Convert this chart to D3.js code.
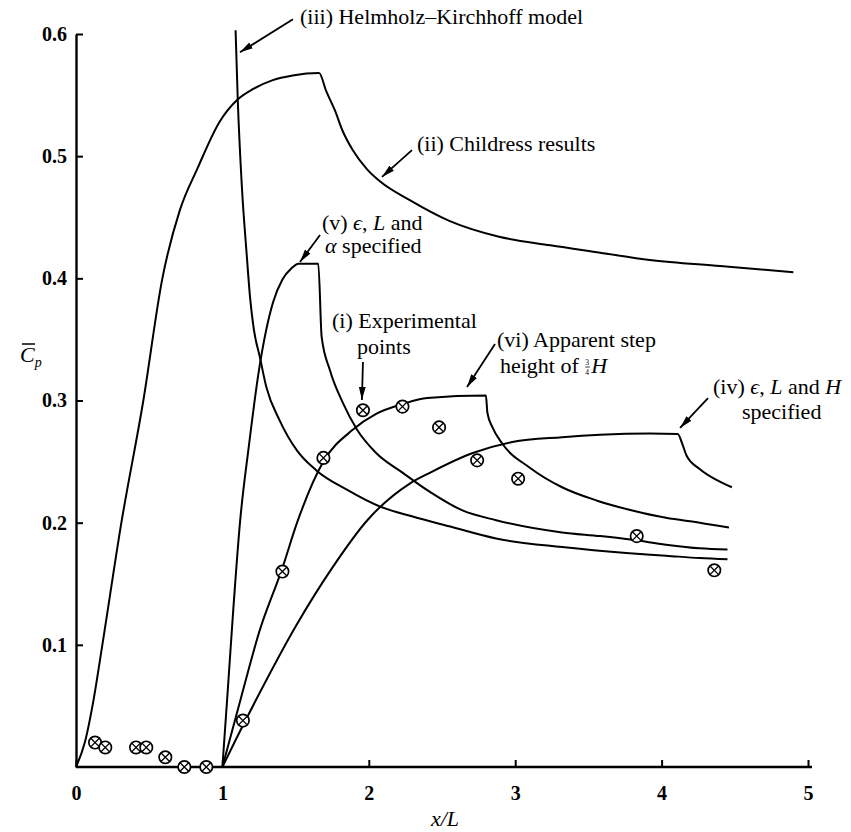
<!DOCTYPE html>
<html>
<head>
    <meta charset="UTF-8">
    <title>Mean pressure coefficient downstream of a step</title>
    <script src="https://d3js.org/d3.v7.min.js"></script>
    <style type="text/css">
        body { margin: 0; background: white; }
        text { font-family: "Liberation Serif", "DejaVu Serif", serif; fill: black; white-space: pre; }
    </style>
</head>
<body>
    <svg id="chart"></svg>

    <script>
        const width = 851;
        const height = 832;

        const xTicks = [0, 1, 2, 3, 4, 5];
        const yTicks = [0.1, 0.2, 0.3, 0.4, 0.5, 0.6];

        // (i) experimental points, x/L and Cp
        const expX  = [0.13, 0.20, 0.41, 0.48, 0.61, 0.74, 0.89, 1.14, 1.41, 1.69, 1.96, 2.23, 2.48, 2.74, 3.02, 3.83, 4.36];
        const expCp = [0.020, 0.016, 0.016, 0.016, 0.008, 0.0, 0.0, 0.038, 0.160, 0.253, 0.292, 0.295, 0.278, 0.251, 0.236, 0.189, 0.161];

        // (ii) Childress results  [x/L, Cp]
        const childress = [[0, 0], [0.06, 0.02], [0.12, 0.055], [0.18, 0.10], [0.31, 0.20], [0.46, 0.30], [0.59, 0.40],
            [0.71, 0.456], [0.83, 0.49], [0.98, 0.528], [1.10, 0.546], [1.21, 0.555], [1.34, 0.562], [1.48, 0.566],
            [1.66, 0.568], [1.71, 0.553], [1.77, 0.537], [1.82, 0.521], [1.89, 0.505], [1.99, 0.489], [2.08, 0.479],
            [2.28, 0.464], [2.55, 0.447], [2.89, 0.434], [3.24, 0.427], [3.58, 0.421], [3.92, 0.415], [4.40, 0.410], [4.90, 0.405]];

        // (iii) Helmholz-Kirchhoff model
        const helmholtz = [[1.09, 0.603], [1.105, 0.546], [1.133, 0.475], [1.165, 0.421], [1.19, 0.383], [1.215, 0.358],
            [1.255, 0.336], [1.30, 0.311], [1.39, 0.284], [1.51, 0.259], [1.64, 0.243], [1.85, 0.227], [2.08, 0.213],
            [2.30, 0.205], [2.55, 0.197], [2.87, 0.187], [3.32, 0.180], [3.78, 0.175], [4.03, 0.173], [4.26, 0.171], [4.45, 0.170]];

        // (iv) eps, L and H specified
        const specH = [[1, 0], [1.14, 0.034], [1.23, 0.055], [1.50, 0.115], [1.75, 0.163], [1.99, 0.202], [2.28, 0.232],
            [2.42, 0.241], [2.71, 0.257], [2.98, 0.266], [3.32, 0.270], [3.58, 0.272], [3.92, 0.273], [4.11, 0.2725],
            [4.14, 0.265], [4.17, 0.255], [4.26, 0.244], [4.375, 0.235], [4.48, 0.229]];

        // (v) eps, L and alpha specified
        const specAlpha = [[1, 0], [1.035, 0.06], [1.075, 0.13], [1.12, 0.20], [1.18, 0.262], [1.25, 0.325], [1.345, 0.38],
            [1.41, 0.399], [1.47, 0.408], [1.52, 0.412], [1.655, 0.412], [1.678, 0.352], [1.734, 0.325], [1.823, 0.298],
            [1.92, 0.276], [2.05, 0.257], [2.23, 0.241], [2.42, 0.225], [2.64, 0.210], [2.87, 0.202], [3.32, 0.192],
            [3.58, 0.189], [3.80, 0.186], [4.03, 0.182], [4.26, 0.179], [4.45, 0.178]];

        // (vi) apparent step height of 3/4 H
        const apparent = [[1, 0], [1.13, 0.058], [1.25, 0.11], [1.41, 0.163], [1.51, 0.20], [1.69, 0.250], [1.89, 0.276],
            [2.05, 0.289], [2.23, 0.297], [2.40, 0.302], [2.80, 0.304], [2.81, 0.29], [2.845, 0.278], [2.91, 0.265],
            [3.10, 0.245], [3.32, 0.229], [3.56, 0.218], [3.80, 0.210], [4.03, 0.204], [4.26, 0.200], [4.46, 0.196]];

        const svg = d3.select("#chart")
            .attr("width", width)
            .attr("height", height);

        const x = d3.scaleLinear().domain([0, 5]).range([76, 808]);
        const y = d3.scaleLinear().domain([0, 0.6]).range([767, 34]);

        svg.append("defs").append("marker")
            .attr("id", "arrow")
            .attr("viewBox", "0 0 13 8")
            .attr("refX", 13)
            .attr("refY", 4)
            .attr("markerWidth", 13)
            .attr("markerHeight", 8)
            .attr("markerUnits", "userSpaceOnUse")
            .attr("orient", "auto")
            .append("path")
            .attr("d", "M0,0.6 L13,4 L0,7.4 Z")
            .attr("fill", "black");

        // axes, ticks point inwards
        const xAxis = svg.append("g")
            .attr("transform", `translate(0,${y(0)})`)
            .call(d3.axisBottom(x).tickValues(xTicks).tickSize(-7).tickSizeOuter(0).tickPadding(19).tickFormat(d3.format("d")));
        // the baseline runs a little past the last tick
        xAxis.select(".domain").attr("d", `M${x(0)},0H${x(5) + 4}`);

        const yAxis = svg.append("g")
            .attr("transform", `translate(${x(0)},0)`)
            .call(d3.axisLeft(y).tickValues(yTicks).tickSize(-7).tickSizeOuter(0).tickPadding(9).tickFormat(d3.format(".1f")));

        [xAxis, yAxis].forEach(a => {
            a.select(".domain").attr("stroke-width", 2.4);
            a.selectAll(".tick line").attr("stroke-width", 2);
            a.selectAll(".tick text")
                .style("font-family", "Liberation Serif")
                .style("font-size", "20px")
                .style("font-weight", "bold");
        });

        // curves
        const line = d3.line()
            .x(d => x(d[0]))
            .y(d => y(d[1]))
            .curve(d3.curveMonotoneX);

        svg.append("g").selectAll("path")
            .data([childress, helmholtz, specH, specAlpha, apparent])
            .join("path")
            .attr("d", line)
            .attr("fill", "none")
            .attr("stroke", "black")
            .attr("stroke-width", 2);

        // experimental points as circled crosses
        const pts = svg.append("g").selectAll("g")
            .data(expX.map((d, i) => [d, expCp[i]]))
            .join("g")
            .attr("transform", d => `translate(${x(d[0])},${y(d[1])})`);
        pts.append("circle")
            .attr("r", 6.2)
            .attr("fill", "white")
            .attr("stroke", "black")
            .attr("stroke-width", 1.7);
        pts.append("path")
            .attr("d", "M-4.3,-4.3L4.3,4.3M-4.3,4.3L4.3,-4.3")
            .attr("stroke", "black")
            .attr("stroke-width", 1.3);

        // axis titles
        svg.append("text")
            .attr("x", x(2.5) + 3)
            .attr("y", 826)
            .attr("text-anchor", "middle")
            .style("font-size", "22px")
            .style("font-style", "italic")
            .text("x/L");

        const cp = svg.append("text")
            .attr("x", 20)
            .attr("y", 362)
            .style("font-size", "22px")
            .style("font-style", "italic");
        cp.append("tspan").text("C");
        cp.append("tspan").attr("dy", 5).style("font-size", "14px").text("p");
        svg.append("line")
            .attr("x1", 22).attr("x2", 35)
            .attr("y1", 344).attr("y2", 344)
            .attr("stroke", "black")
            .attr("stroke-width", 1.5);

        // annotations: text parts are [string, italic]
        function addText(parts, at) {
            const t = svg.append("text")
                .attr("x", x(at[0]))
                .attr("y", y(at[1]))
                .style("font-size", "22px");
            parts.forEach(p => t.append("tspan")
                .style("font-style", p[1] ? "italic" : "normal")
                .text(p[0]));
            return t;
        }
        function addArrow(from, to) {
            svg.append("line")
                .attr("x1", x(from[0])).attr("y1", y(from[1]))
                .attr("x2", x(to[0])).attr("y2", y(to[1]))
                .attr("stroke", "black")
                .attr("stroke-width", 1.8)
                .attr("marker-end", "url(#arrow)");
        }

        addText([["(iii) Helmholz–Kirchhoff model"]], [1.53, 0.608]);
        addArrow([1.482, 0.612], [1.12, 0.585]);

        addText([["(ii) Childress results"]], [2.329, 0.504]);
        addArrow([2.295, 0.505], [2.09, 0.483]);

        addText([["(v) "], ["ϵ", true], [", "], ["L", true], [" and"]], [1.68, 0.4396]);
        addText([["α", true], [" specified"]], [1.701, 0.4207]);
        addArrow([1.667, 0.4355], [1.53, 0.4134]);

        addText([["(i) Experimental"]], [1.749, 0.3593]);
        addText([["points"]], [1.919, 0.3381]);
        addArrow([1.96, 0.3315], [1.953, 0.3004]);

        addText([["(vi) Apparent step"]], [2.876, 0.3438]);
        // "height of" with a small stacked 3/4 and an italic H
        const h34 = addText([["height of "]], [2.896, 0.3225]);
        const fx = x(2.896) + h34.node().getComputedTextLength() + 1;
        const fy = y(0.3225);
        h34.append("tspan").attr("x", fx).attr("y", fy - 8.5).style("font-size", "7.5px").text("3");
        h34.append("tspan").attr("x", fx).attr("y", fy + 1.5).style("font-size", "7.5px").text("4");
        h34.append("tspan").attr("x", fx + 6).attr("y", fy).style("font-style", "italic").text("H");
        svg.append("line")
            .attr("x1", fx).attr("x2", fx + 4.5)
            .attr("y1", fy - 6).attr("y2", fy - 6)
            .attr("stroke", "black").attr("stroke-width", 0.8);
        addArrow([2.862, 0.3462], [2.671, 0.311]);

        addText([["(iv) "], ["ϵ", true], [", "], ["L", true], [" and "], ["H", true]], [4.351, 0.3053]);
        addText([["specified"]], [4.549, 0.2849]);
        addArrow([4.317, 0.302], [4.126, 0.2775]);
    </script>
</body>
</html>
